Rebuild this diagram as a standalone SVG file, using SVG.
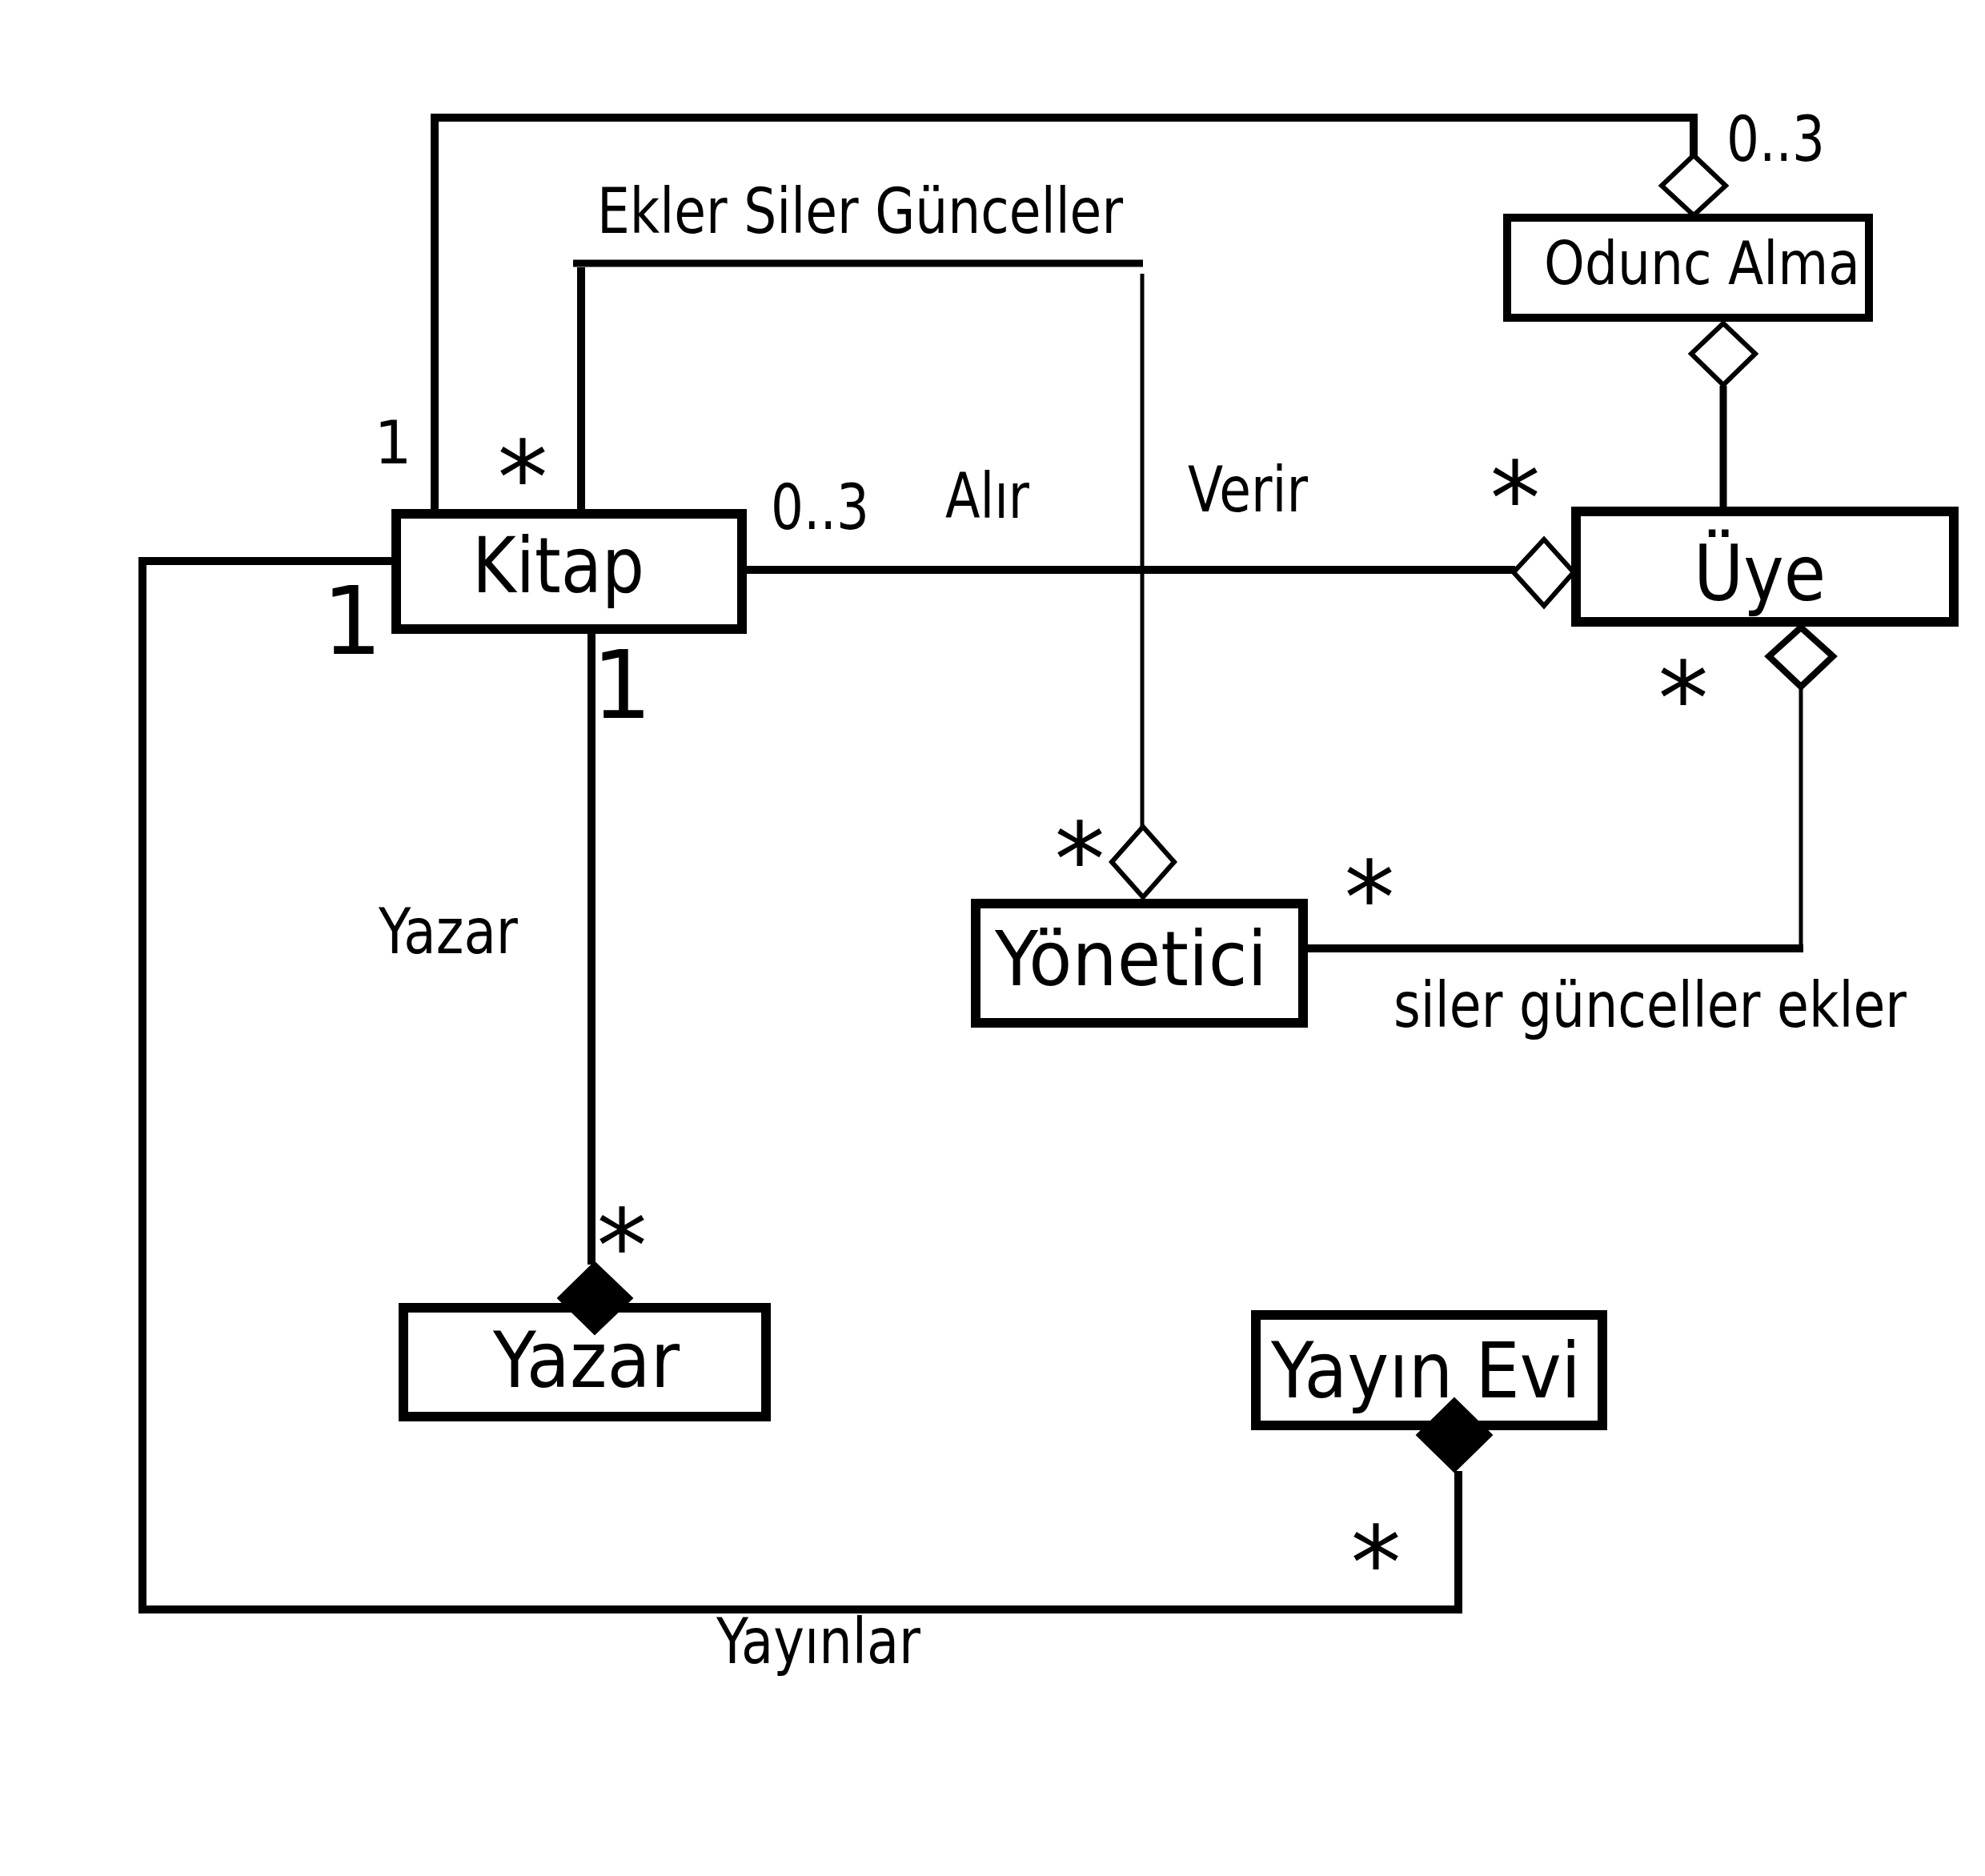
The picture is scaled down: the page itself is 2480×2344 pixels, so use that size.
<svg xmlns="http://www.w3.org/2000/svg" width="2480" height="2344" viewBox="0 0 2480 2344">
<style>
.box{fill:#fff;stroke:#000;stroke-width:12}
.thin-box{fill:#fff;stroke:#000;stroke-width:10}
.c{fill:none;stroke:#000;stroke-width:10}
.ct{fill:none;stroke:#000;stroke-width:5}
.hd{fill:#fff;stroke:#000;stroke-width:6}
.fd{fill:#000;stroke:#000;stroke-width:2}
text{font-family:"DejaVu Sans","Verdana",sans-serif;fill:#000}
.n{font-size:96px}
.l{font-size:78px}
.ast{font-size:126px;text-anchor:middle}
.one{text-anchor:middle}
</style>
<rect width="2480" height="2344" fill="#fff"/>
<g id="connectors">
<path class="c" d="M543,639 V147 H2121"/>
<path class="c" d="M2116,142 V196"/>
<path class="c" d="M726,639 V334"/>
<path class="c" d="M716,329 H1428" style="stroke-width:9"/>
<path class="ct" d="M1427,342 V1035"/>
<path class="c" d="M930,712 H1893"/>
<path class="c" d="M2153,482 V636" style="stroke-width:9"/>
<path class="ct" d="M2250,858 V1190"/>
<path class="c" d="M1631,1185 H2253"/>
<path class="c" d="M739,789 V1580"/>
<path class="c" d="M492,701 H178 V2011 H1827"/>
<path class="c" d="M1822,1838 V2016"/>
<polygon class="hd" points="2116,194 2156,232 2116,269 2076,232"/>
<polygon class="hd" points="2153,404 2193,442 2153,481 2113,442"/>
<polygon class="hd" points="1891,715 1929,674 1966,715 1929,757"/>
<polygon class="hd" points="2250,784 2290,820 2250,858 2210,820" style="stroke-width:8"/>
<polygon class="hd" points="1428,1033 1467,1077 1428,1121 1389,1077"/>
</g>
<g id="kitap">
<rect class="box" x="495" y="642" width="432" height="144"/>
<text class="n" x="590" y="740" textLength="215" lengthAdjust="spacingAndGlyphs">Kitap</text>
</g>
<g id="uye">
<rect class="box" x="1969" y="639" width="472" height="138"/>
<text class="n" x="2116" y="750" textLength="165" lengthAdjust="spacingAndGlyphs">Üye</text>
</g>
<g id="odunc-alma">
<rect class="thin-box" x="1883" y="272" width="452" height="125"/>
<text x="1929" y="355" font-size="74" textLength="395" lengthAdjust="spacingAndGlyphs">Odunc Alma</text>
</g>
<g id="yonetici">
<rect class="box" x="1219" y="1129" width="409" height="149"/>
<text x="1243" y="1231" font-size="94" textLength="340" lengthAdjust="spacingAndGlyphs">Yönetici</text>
</g>
<g id="yazar">
<rect class="box" x="504" y="1634" width="453" height="136"/>
<text class="n" x="616" y="1733" textLength="233" lengthAdjust="spacingAndGlyphs">Yazar</text>
<polygon class="fd" points="743,1577 790,1622 743,1667 697,1622"/>
</g>
<g id="yayin-evi">
<rect class="box" x="1569" y="1643" width="433" height="138"/>
<text class="n" x="1588" y="1746" textLength="387" lengthAdjust="spacingAndGlyphs">Yayın Evi</text>
<polygon class="fd" points="1817,1747 1864,1793 1817,1839 1770,1793"/>
</g>
<g id="labels">
<text class="l" x="746" y="291" textLength="657" lengthAdjust="spacingAndGlyphs">Ekler Siler Günceller</text>
<text class="l" x="1181" y="647" textLength="105" lengthAdjust="spacingAndGlyphs">Alır</text>
<text class="l" x="1484" y="639" textLength="150" lengthAdjust="spacingAndGlyphs">Verir</text>
<text class="l" x="963" y="661" textLength="123" lengthAdjust="spacingAndGlyphs">0..3</text>
<text class="l" x="2157" y="201" textLength="123" lengthAdjust="spacingAndGlyphs">0..3</text>
<text class="l" x="473" y="1191" textLength="174" lengthAdjust="spacingAndGlyphs">Yazar</text>
<text class="l" x="1741" y="1283" textLength="641" lengthAdjust="spacingAndGlyphs">siler günceller ekler</text>
<text class="l" x="895" y="2078" textLength="255" lengthAdjust="spacingAndGlyphs">Yayınlar</text>
<text class="one" x="491" y="579" font-size="74">1</text>
<text class="one" x="440" y="817" font-size="118">1</text>
<text class="one" x="777" y="897" font-size="118">1</text>
<text class="ast" x="653" y="641">*</text>
<text class="ast" x="1893" y="667">*</text>
<text class="ast" x="2103" y="917">*</text>
<text class="ast" x="1349" y="1118">*</text>
<text class="ast" x="1711" y="1166">*</text>
<text class="ast" x="777" y="1601">*</text>
<text class="ast" x="1719" y="1997">*</text>
</g>
</svg>
